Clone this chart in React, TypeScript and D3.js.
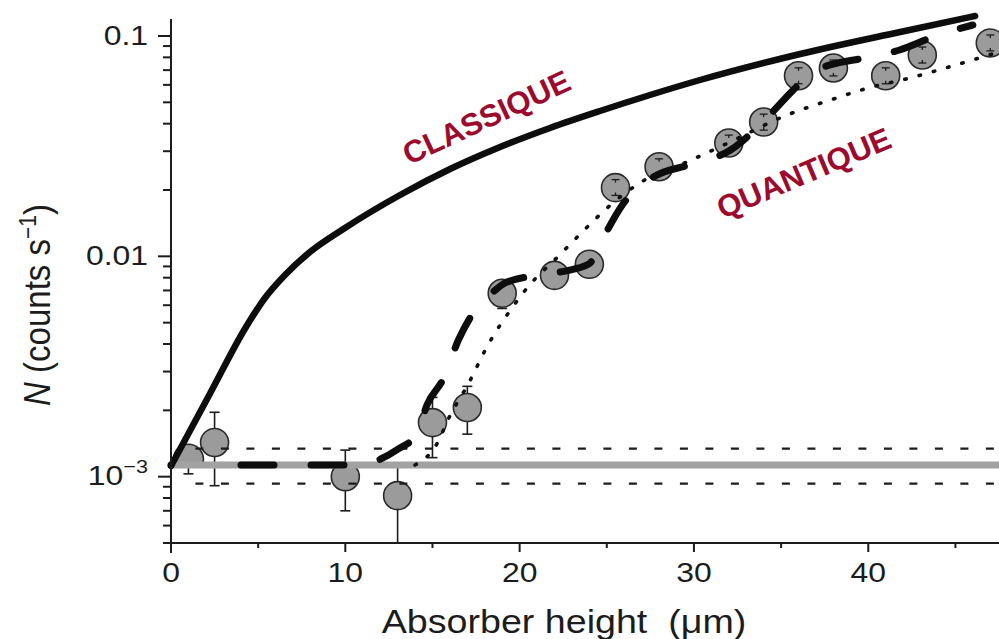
import React from 'react';
import * as d3 from 'd3';

const W = 999;
const H = 639;

// Measured count rates: absorber height (µm), rate and error-bar limits (counts/s)
const pointX = [1.0, 2.5, 10.0, 13.0, 15.0, 17.0, 19.0, 22.0, 24.0, 25.5, 28.0, 32.0, 34.0, 36.0, 38.0, 41.0, 43.1, 47.0];
const pointN = [1.2e-3, 1.43e-3, 1.0e-3, 8.2e-4, 1.76e-3, 2.06e-3, 6.8e-3, 8.2e-3, 9.2e-3, 0.0205, 0.0255, 0.0327, 0.0407, 0.066, 0.0716, 0.066, 0.082, 0.093];
const pointLow = [1.03e-3, 9.1e-4, 7.0e-4, 4.5e-4, 1.22e-3, 1.56e-3, 5.8e-3, 8.2e-3, 9.2e-3, 0.0189, 0.0235, 0.0301, 0.0374, 0.0607, 0.0659, 0.0607, 0.0754, 0.0856];
const pointHigh = [1.2e-3, 1.96e-3, 1.32e-3, 1.13e-3, 2.29e-3, 2.57e-3, 6.8e-3, 8.2e-3, 9.2e-3, 0.0223, 0.0277, 0.0355, 0.0442, 0.0717, 0.0778, 0.0717, 0.0891, 0.1011];

// Classical prediction
const classicX = [0, 2.24, 4.25, 5.39, 6.54, 7.97, 9.98, 13.14, 16.01, 18.88, 21.74, 24.61, 27.48, 30.35, 36.09, 41.83, 46.13];
const classicN = [1.118e-3, 2.384e-3, 4.703e-3, 6.472e-3, 8.229e-3, 0.01046, 0.01345, 0.01898, 0.0249, 0.03134, 0.03824, 0.04567, 0.05398, 0.06314, 0.08287, 0.1043, 0.1232];

// Quantum model (dashed)
const quantX = [0, 11.0, 12.0, 13.0, 14.1, 14.7, 15.6, 16.5, 17.6, 18.5, 19.2, 21.3, 23.0, 24.0, 24.8, 25.9, 27.7, 29.7, 32.1, 33.9, 35.7, 36.8, 37.8, 39.8, 41.8, 44.0, 46.0];
const quantN = [1.13e-3, 1.13e-3, 1.2e-3, 1.33e-3, 1.56e-3, 2.13e-3, 2.76e-3, 4.19e-3, 5.92e-3, 6.92e-3, 7.6e-3, 8.26e-3, 8.71e-3, 9.27e-3, 0.01216, 0.01715, 0.02296, 0.026, 0.0304, 0.0403, 0.0569, 0.0687, 0.0739, 0.0795, 0.0864, 0.101, 0.1122];

// Smoothed quantum model (dotted)
const dotX = [14.0, 15.3, 15.9, 17.1, 18.2, 19.5, 20.5, 22.2, 23.9, 25.1, 27.0, 29.5, 32.1, 35.1, 38.2, 39.8, 42.4, 45.8, 47.5];
const dotN = [1.13e-3, 1.43e-3, 1.82e-3, 2.68e-3, 3.98e-3, 5.74e-3, 7.3e-3, 9.97e-3, 0.01364, 0.0168, 0.0218, 0.0266, 0.0331, 0.043, 0.0524, 0.0575, 0.0645, 0.0771, 0.0847];

// Background level and its uncertainty band
const baseN = 1.13e-3;
const baseUpper = 1.34e-3;
const baseLower = 9.3e-4;
const baseStart = 1.4;

// Axes
const xDomain = [0, 47.5];
const yDomain = [5e-4, 0.1];
const yTop = 0.1195;
const xMajor = [0, 10, 20, 30, 40];
const xMinor = [5, 15, 25, 35, 45];
const yMajor = [0.1, 0.01, 0.001];
const yMajorText = ['0.1', '0.01', '10'];
const yMajorSup = ['', '', '\u22123'];

const x = d3.scaleLinear().domain(xDomain).range([171, 999]);
const y = d3.scaleLog().domain(yDomain).range([543, 36]);

const SX = 1.14; // horizontal stretch of the printed lettering
const INK = '#1c1c1c';
const RED = '#9c0b2e';

// long dashes for the quantum curve, starting with a gap
const quantDash = ['0', '70'].concat(d3.range(24).flatMap(() => ['33', '37'])).join(' ');

export default function App() {
  const line = d3
    .line<[number, number]>()
    .x((d) => x(d[0]))
    .y((d) => y(d[1]))
    .curve(d3.curveMonotoneX);

  const classicPath = line(classicX.map((v, i) => [v, classicN[i]] as [number, number])) || '';
  const quantPath = line(quantX.map((v, i) => [v, quantN[i]] as [number, number])) || '';
  const dotPath = line(dotX.map((v, i) => [v, dotN[i]] as [number, number])) || '';

  const yMinor = y.ticks().filter((t) => !yMajor.some((m) => Math.abs(m - t) / m < 1e-6));
  const x0 = x(0);
  const yBottom = y(yDomain[0]);
  const xRight = x(xDomain[1]);

  return (
    <svg
      width={W}
      height={H}
      style={{ position: 'absolute', left: 0, top: 0, background: '#fff' }}
      fontFamily="'Liberation Sans', Arial, Helvetica, sans-serif"
    >
      <defs>
        <clipPath id="aboveBase">
          <rect x={0} y={0} width={W} height={y(baseN)} />
        </clipPath>
      </defs>
      <rect x={0} y={0} width={W} height={H} fill="#fff" />

      {/* error bars */}
      <g stroke={INK} strokeWidth={1.6} fill="none">
        {pointX.map((px, i) => {
          const cx = x(px);
          const lo = Math.max(pointLow[i], yDomain[0]);
          const hi = pointHigh[i];
          const showLoCap = pointLow[i] < pointN[i] && pointLow[i] >= yDomain[0];
          const showHiCap = hi > pointN[i];
          return (
            <g key={i}>
              <line x1={cx} x2={cx} y1={y(lo)} y2={y(hi)} />
              {showLoCap && <line x1={cx - 5} x2={cx + 5} y1={y(lo)} y2={y(lo)} />}
              {showHiCap && <line x1={cx - 5} x2={cx + 5} y1={y(hi)} y2={y(hi)} />}
            </g>
          );
        })}
      </g>

      {/* data points */}
      <g fill="#9b9b9b" stroke="#2a2a2a" strokeWidth={1.6}>
        {pointX.map((px, i) => (
          <circle
            key={i}
            cx={x(px)}
            cy={y(pointN[i])}
            r={i === 0 ? 15 : 14}
            clipPath={i === 0 ? 'url(#aboveBase)' : undefined}
          />
        ))}
      </g>
      {/* small error bars drawn inside the markers */}
      <g stroke={INK} strokeWidth={1.3}>
        {pointX.map((px, i) =>
          i >= 9 ? (
            <g key={i}>
              <line x1={x(px) - 4} x2={x(px) + 4} y1={y(pointLow[i])} y2={y(pointLow[i])} />
              <line x1={x(px) - 4} x2={x(px) + 4} y1={y(pointHigh[i])} y2={y(pointHigh[i])} />
              <line x1={x(px)} x2={x(px)} y1={y(pointHigh[i])} y2={y(pointHigh[i]) + 3} />
              <line x1={x(px)} x2={x(px)} y1={y(pointLow[i])} y2={y(pointLow[i]) - 3} />
            </g>
          ) : null
        )}
      </g>

      {/* background level */}
      <line x1={x0} x2={xRight} y1={y(baseN)} y2={y(baseN)} stroke="#a2a2a2" strokeWidth={7} />
      <g stroke={INK} strokeWidth={2.4} strokeDasharray="8 17.5">
        <line x1={x(baseStart)} x2={xRight} y1={y(baseUpper)} y2={y(baseUpper)} />
        <line x1={x(baseStart)} x2={xRight} y1={y(baseLower)} y2={y(baseLower)} />
      </g>

      {/* dotted model */}
      <path d={dotPath} fill="none" stroke="#111" strokeWidth={3.6} strokeLinecap="round" strokeDasharray="1.5 13.3" />

      {/* classical curve */}
      <path d={classicPath} fill="none" stroke="#0d0d0d" strokeWidth={6.5} strokeLinecap="round" />

      {/* quantum dashed curve */}
      <path d={quantPath} fill="none" stroke="#0d0d0d" strokeWidth={7} strokeLinecap="round" strokeDasharray={quantDash} />

      {/* axes */}
      <g stroke={INK} strokeWidth={2} fill="none">
        <line x1={x0} x2={x0} y1={y(yTop)} y2={yBottom + 10} />
        <line x1={x0 - 8} x2={xRight} y1={yBottom} y2={yBottom} />
        {yMajor.map((t) => (
          <line key={t} x1={x0 - 13} x2={x0} y1={y(t)} y2={y(t)} />
        ))}
        {yMinor.map((t) => (
          <line key={t} x1={x0 - 8} x2={x0} y1={y(t)} y2={y(t)} />
        ))}
        {xMajor.map((t) => (
          <line key={t} x1={x(t)} x2={x(t)} y1={yBottom} y2={yBottom + 9} />
        ))}
        {xMinor.map((t) => (
          <line key={t} x1={x(t)} x2={x(t)} y1={yBottom} y2={yBottom + 5} />
        ))}
      </g>

      {/* tick labels */}
      <g fill={INK} fontSize={28}>
        {xMajor.map((t) => (
          <text key={t} transform={`translate(${x(t)},${yBottom + 39}) scale(${SX},1)`} textAnchor="middle">
            {String(t)}
          </text>
        ))}
        {yMajor.map((t, i) => (
          <text key={t} transform={`translate(148,${y(t) + (yMajorSup[i] ? 8 : 9)}) scale(${SX},1)`} textAnchor="end">
            {yMajorText[i]}
            {yMajorSup[i] && (
              <tspan dy={-12} fontSize={19}>
                {yMajorSup[i]}
              </tspan>
            )}
          </text>
        ))}
      </g>

      {/* axis titles */}
      <text
        transform={`translate(564,633) scale(${SX},1)`}
        textAnchor="middle"
        fontSize={33}
        fill={INK}
        style={{ whiteSpace: 'pre' }}
      >
        {'Absorber height  (\u03bcm)'}
      </text>
      <text transform={`translate(50,305) scale(${SX},1) rotate(-90)`} textAnchor="middle" fontSize={33} fill={INK}>
        <tspan fontStyle="italic">N</tspan>
        <tspan> (counts s</tspan>
        <tspan dy={-12} fontSize={21}>
          {'\u22121'}
        </tspan>
        <tspan dy={12}>)</tspan>
      </text>

      {/* curve annotations */}
      <g fill={RED} fontWeight="bold" fontSize={31} textAnchor="middle">
        <text transform="translate(491,127) rotate(-25)">CLASSIQUE</text>
        <text transform="translate(808,183) rotate(-23)">QUANTIQUE</text>
      </g>
    </svg>
  );
}
